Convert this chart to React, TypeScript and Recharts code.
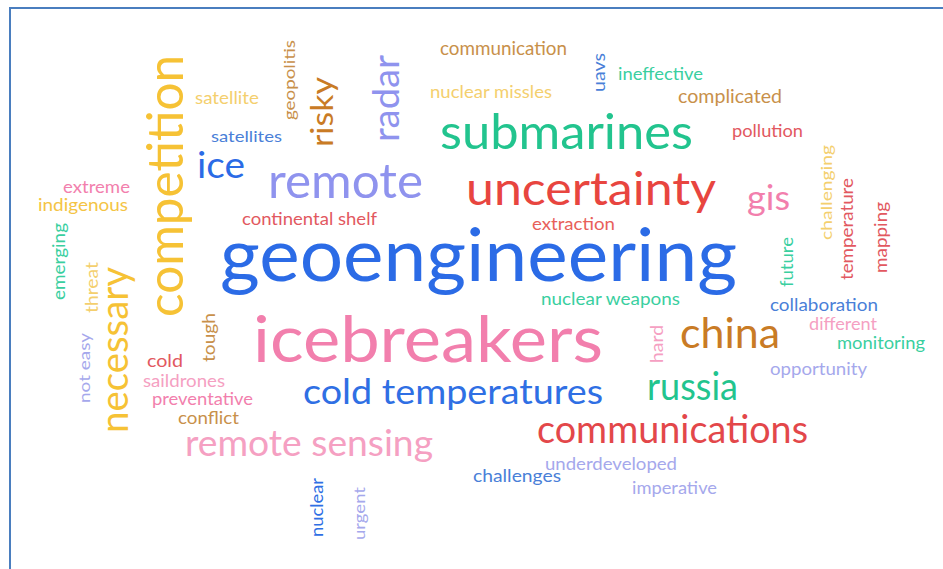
import { Scatter, ScatterChart, XAxis, YAxis } from 'recharts';

const W = 943;
const H = 569;

const words = [
  'geoengineering', 'icebreakers', 'submarines', 'uncertainty', 'remote', 'competition',
  'communications', 'cold temperatures', 'remote sensing', 'china', 'russia', 'necessary',
  'radar', 'ice', 'gis', 'risky', 'communication', 'nuclear missles', 'uavs', 'ineffective',
  'complicated', 'pollution', 'satellite', 'satellites', 'geopolitis', 'extreme', 'indigenous',
  'continental shelf', 'extraction', 'challenging', 'temperature', 'mapping', 'emerging',
  'threat', 'future', 'nuclear weapons', 'collaboration', 'different', 'monitoring', 'tough',
  'hard', 'cold', 'opportunity', 'not easy', 'saildrones', 'preventative', 'conflict',
  'underdeveloped', 'challenges', 'imperative', 'nuclear', 'urgent',
];

// relative weight of each word (drawn as its font size)
const weights = [
  74, 64, 48, 46, 48, 50, 38, 34, 36, 42, 38, 38, 36, 36, 34, 30, 19, 17, 18, 17,
  19, 18, 17, 16, 16, 17, 17, 18, 18, 16, 17, 17, 17, 17, 17, 17, 18, 17, 17, 17,
  17, 18, 17, 16, 17, 17, 17, 18, 17, 17, 17, 16,
];

const colors = [
  '#2b6be6', '#f27fad', '#22c48e', '#e8453f', '#8f93ee', '#f6c235',
  '#e3474a', '#2f6fe4', '#f5a0c2', '#c97b25', '#22c48e', '#f6c235',
  '#8f93ee', '#2b6be6', '#f27fad', '#c97b25', '#c8904a', '#f4cf6e', '#4a7fd8', '#3acf9f',
  '#c8904a', '#e25860', '#f4cf6e', '#4a7fd8', '#c8904a', '#f27fad', '#f4c445',
  '#e25860', '#e8605a', '#f4cf6e', '#e25860', '#e25860', '#3acf9f',
  '#f4cf6e', '#3acf9f', '#3acf9f', '#4a7fd8', '#f5a0c2', '#3acf9f', '#c8904a',
  '#f5a0c2', '#e25860', '#a5a8ec', '#a5a8ec', '#f5a0c2', '#f27fad', '#c8904a',
  '#a5a8ec', '#4a7fd8', '#a5a8ec', '#2f6fe4', '#a5a8ec',
];

// cloud layout: [x, y, vertical, span]
const layout: [number, number, number, number][] = [
  [478.5, 281, 0, 517], [428, 362, 0, 350], [566.5, 149, 0, 253], [591, 205, 0, 250],
  [345.5, 198, 0, 155], [183, 186, 1, 262], [672.5, 443, 0, 271], [453, 404, 0, 300],
  [309, 456, 0, 248], [730, 348, 0, 100], [692.5, 400, 0, 91], [128, 350, 1, 166],
  [399, 98.5, 1, 87], [221, 178, 0, 48], [768.5, 210, 0, 43], [333, 112, 1, 70],
  [503.5, 55, 0, 127], [491, 98, 0, 122], [605, 72.5, 1, 39], [660.5, 80, 0, 85],
  [730, 103, 0, 104], [767.5, 137, 0, 71], [227, 104, 0, 64], [246.5, 142, 0, 71],
  [295, 80, 1, 80], [96.5, 193, 0, 67], [83, 211, 0, 90], [309.5, 225, 0, 135],
  [573.5, 230, 0, 83], [832, 192.5, 1, 95], [853, 229, 1, 102], [887, 237.5, 1, 71],
  [65, 261.5, 1, 77], [98, 287.5, 1, 51], [793, 262, 1, 50], [610.5, 305, 0, 139],
  [824, 311, 0, 108], [843, 330, 0, 68], [881, 349, 0, 88], [215, 337.5, 1, 49],
  [663, 344, 1, 38], [165, 367, 0, 36], [818.5, 375, 0, 97], [90, 368, 1, 70],
  [184, 387, 0, 82], [202.5, 405, 0, 101], [208.5, 424, 0, 61], [611, 470, 0, 132],
  [517, 482, 0, 88], [674.5, 494, 0, 85], [323, 507.5, 1, 59], [365, 513.5, 1, 53],
];

const data = words.map((word, i) => ({
  word,
  weight: weights[i],
  color: colors[i],
  x: layout[i][0],
  y: layout[i][1],
  vertical: layout[i][2] === 1,
  span: layout[i][3],
}));

function Word(props: any) {
  const { cx, cy, payload } = props;
  if (cx == null || cy == null) return null;
  return (
    <text
      x={cx}
      y={cy}
      textAnchor="middle"
      fontFamily="Lato, 'Open Sans', sans-serif"
      fontSize={payload.weight}
      fill={payload.color}
      textLength={payload.span}
      lengthAdjust="spacingAndGlyphs"
      transform={payload.vertical ? `rotate(-90 ${cx} ${cy})` : undefined}
    >
      {payload.word}
    </text>
  );
}

export default function App() {
  return (
    <div
      style={{
        position: 'fixed',
        left: 0,
        top: 0,
        width: W,
        height: H,
        overflow: 'hidden',
        background: '#fff',
      }}
    >
      <div
        style={{
          position: 'absolute',
          left: 9,
          top: 7,
          width: 990,
          height: 620,
          border: '2px solid #4a7ebf',
        }}
      />
      <div style={{ position: 'absolute', left: 0, top: 0 }}>
        <ScatterChart width={W} height={H} margin={{ top: 0, right: 0, bottom: 0, left: 0 }}>
          <XAxis type="number" dataKey="x" domain={[0, W]} hide />
          <YAxis type="number" dataKey="y" domain={[0, H]} reversed hide />
          <Scatter data={data} shape={Word} isAnimationActive={false} />
        </ScatterChart>
      </div>
    </div>
  );
}
